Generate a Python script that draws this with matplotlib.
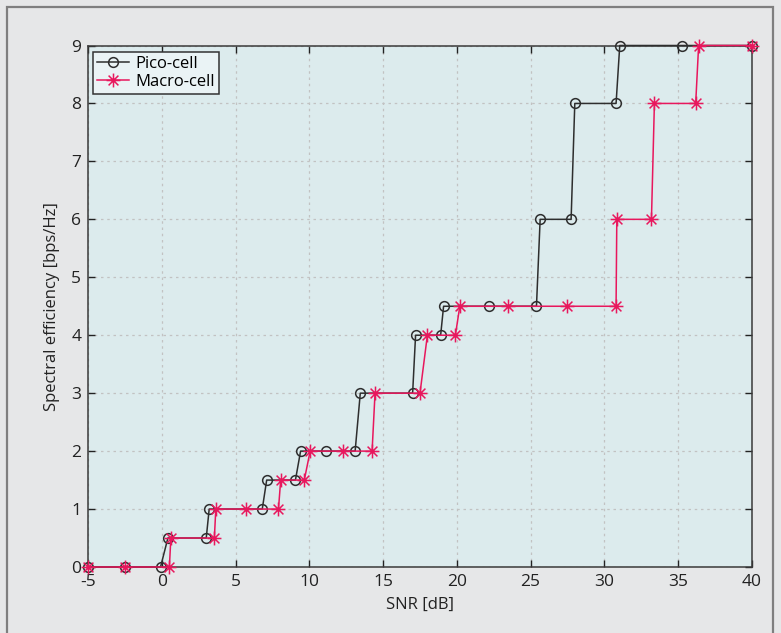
import numpy as np
import matplotlib.pyplot as plt
from matplotlib.patches import Rectangle
from matplotlib.path import Path

plt.rcParams['font.family'] = ['Open Sans', 'DejaVu Sans']
plt.rcParams['axes.unicode_minus'] = False

# Pico-cell curve
pico_snr = [-5, -2.5, -0.1, 0.4, 3.0, 3.2, 6.8, 7.1, 9.05, 9.4, 11.15, 13.1, 13.45,
            17.0, 17.2, 18.9, 19.1, 22.2, 25.4, 25.65, 27.75, 28.0, 30.8, 31.05, 35.25, 40]
pico_eff = [0, 0, 0, 0.5, 0.5, 1, 1, 1.5, 1.5, 2, 2, 2, 3,
            3, 4, 4, 4.5, 4.5, 4.5, 6, 6, 8, 8, 9, 9, 9]

# Macro-cell curve
macro_snr = [-5, -2.5, 0.5, 0.6, 3.55, 3.65, 5.7, 7.9, 8.05, 9.65, 10.05, 12.25, 14.25,
             14.45, 17.5, 18.0, 19.9, 20.2, 23.5, 27.5, 30.8, 30.85, 33.2, 33.4, 36.2, 36.4, 40]
macro_eff = [0, 0, 0, 0.5, 0.5, 1, 1, 1, 1.5, 1.5, 2, 2, 2,
             3, 3, 4, 4, 4.5, 4.5, 4.5, 4.5, 6, 6, 8, 8, 9, 9]

xticks = np.arange(-5, 41, 5)
yticks = np.arange(0, 10, 1)

pico_color = '#2e2e2e'
macro_color = '#e8175d'

# asterisk marker like matlab: + and x together
star = Path([(0, -1), (0, 1), (-1, 0), (1, 0),
             (-0.707, -0.707), (0.707, 0.707), (-0.707, 0.707), (0.707, -0.707)],
            [Path.MOVETO, Path.LINETO] * 4)

fig = plt.figure(figsize=(7.81, 6.33), dpi=100, facecolor='#e6e7e8')
ax = fig.add_axes([88.3 / 781, 66 / 633, 663.4 / 781, 521.5 / 633])
ax.set_facecolor('#dcebed')

ax.plot(pico_snr, pico_eff, color=pico_color, lw=1.1, marker='o', ms=7,
        mfc='none', mec=pico_color, mew=1.1, clip_on=False, zorder=3, label='Pico-cell')
ax.plot(macro_snr, macro_eff, color=macro_color, lw=1.1, marker=star, ms=10,
        mec=macro_color, mew=1.1, clip_on=False, zorder=4, label='Macro-cell')

ax.set_xlim(-5, 40)
ax.set_ylim(0, 9)
ax.set_xticks(xticks)
ax.set_yticks(yticks)
ax.grid(True, color='#c2c2c2', linestyle=(0, (2, 3)), lw=0.9)
ax.set_axisbelow(True)
ax.tick_params(direction='in', length=5, width=1, top=True, right=True,
               labelsize=12.5, colors='#222222', pad=5)
for s in ax.spines.values():
    s.set_color('#3a3a3a')
    s.set_linewidth(1.1)

ax.set_xlabel('SNR [dB]', fontsize=12, color='#222222', labelpad=5)
ax.set_ylabel('Spectral efficiency [bps/Hz]', fontsize=12, color='#222222', labelpad=8)

leg = ax.legend(loc='upper left', bbox_to_anchor=(0.007, 0.988), borderaxespad=0,
                fancybox=False, framealpha=1, facecolor='#eaf3f5', edgecolor='#333333',
                fontsize=12, handlelength=1.9, handletextpad=0.4, borderpad=0.25,
                labelspacing=0.1)
leg.get_frame().set_linewidth(1.1)

# grey frame round the figure
fig.patches.append(Rectangle((7.5 / 781, -0.05), (773 - 7.5) / 781, 1.05 - 7.5 / 633,
                             transform=fig.transFigure, fill=False,
                             edgecolor='#7f7f7f', lw=1.6))

fig.savefig('out.png', dpi=100, facecolor=fig.get_facecolor())
